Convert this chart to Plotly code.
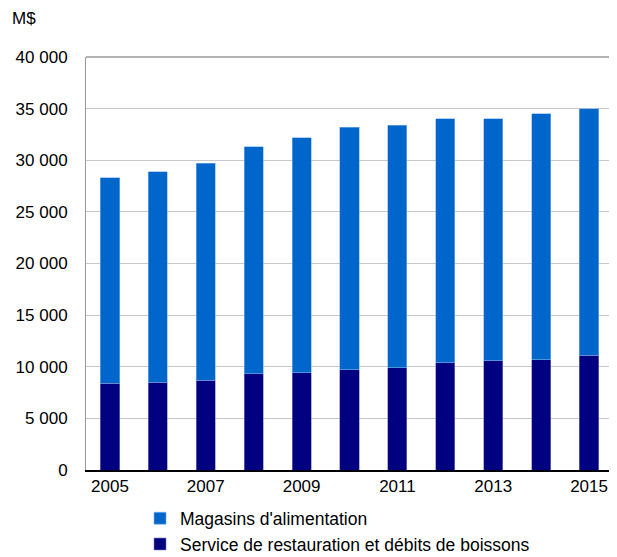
import plotly.graph_objects as go

years = [2005, 2006, 2007, 2008, 2009, 2010, 2011, 2012, 2013, 2014, 2015]
restauration = [8400, 8500, 8700, 9300, 9400, 9700, 9900, 10400, 10600, 10700, 11100]
magasins = [19900, 20400, 21000, 22000, 22800, 23500, 23500, 23600, 23400, 23800, 23900]

y_tickvals = [0, 5000, 10000, 15000, 20000, 25000, 30000, 35000, 40000]
y_ticktext = ["0", "5 000", "10 000", "15 000", "20 000", "25 000", "30 000", "35 000", "40 000"]
x_tickvals = [2005, 2007, 2009, 2011, 2013, 2015]

FONT = "Liberation Sans, Arial, sans-serif"

fig = go.Figure()
fig.add_trace(go.Bar(
    x=years, y=restauration, name="Service de restauration et débits de boissons",
    marker=dict(color="#000080", line=dict(color="#8080C0", width=0.6)),
    width=0.4,
))
fig.add_trace(go.Bar(
    x=years, y=magasins, name="Magasins d'alimentation",
    marker=dict(color="#0066CC", line=dict(color="#80B3E6", width=0.6)),
    width=0.4,
))

# page is drawn with an 8px body margin, so the figure is 8px smaller
fig.update_layout(
    width=609, height=549,
    barmode="stack",
    paper_bgcolor="white", plot_bgcolor="white",
    margin=dict(l=78, r=4, t=49, b=87, autoexpand=False),
    font=dict(family=FONT, size=17, color="#000000"),
    showlegend=True,
    legend=dict(
        orientation="v", x=0.1025, xanchor="left", y=-0.0735, yanchor="top",
        font=dict(family=FONT, size=17.5, color="#000000"),
        traceorder="reversed",
        bgcolor="rgba(0,0,0,0)",
    ),
    xaxis=dict(
        range=[2004.5, 2015.5], automargin=False,
        tickvals=x_tickvals, ticktext=[str(v) for v in x_tickvals],
        showgrid=False, showline=True, linecolor="#000000", linewidth=1.5,
        ticks="", tickfont=dict(size=17), zeroline=False,
    ),
    yaxis=dict(
        range=[0, 40000], automargin=False,
        tickvals=y_tickvals, ticktext=y_ticktext,
        showgrid=True, gridcolor="#C8C8C8", gridwidth=1,
        showline=True, linecolor="#999999", linewidth=1, mirror=True,
        ticks="", tickfont=dict(size=17), zeroline=False,
        ticklabelstandoff=14,
    ),
    shapes=[dict(type="line", xref="paper", yref="paper", x0=0, x1=1, y0=1, y1=1,
                 line=dict(color="#999999", width=1.5), layer="above")],
    annotations=[dict(
        text="M$", xref="paper", yref="paper", x=-0.144, y=1.094,
        xanchor="left", yanchor="middle", showarrow=False,
        font=dict(family=FONT, size=17, color="#000000"),
    )],
)

fig.write_html("out.html")
